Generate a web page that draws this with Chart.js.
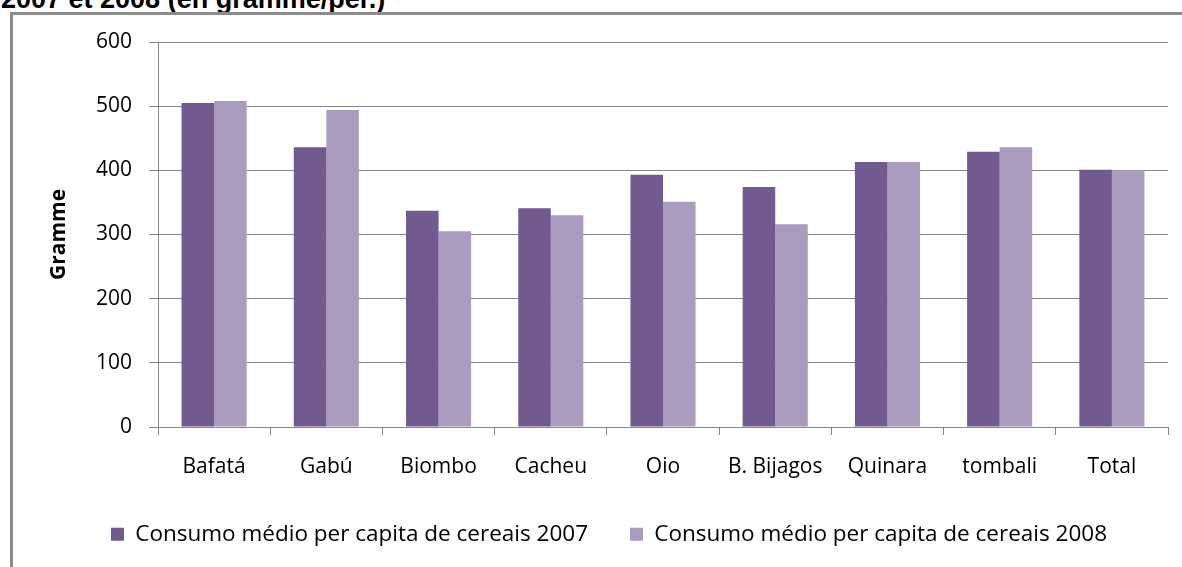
<!DOCTYPE html>
<html>
<head>
<meta charset="utf-8">
<script src="https://cdn.jsdelivr.net/npm/chart.js@4.4.1/dist/chart.umd.min.js"></script>
<style>
  html, body { margin: 0; padding: 0; background: #fff; overflow: hidden; }
  #caption {
    position: absolute; left: 1px; top: -14px;
    font: bold 27px/27px 'Liberation Sans', Arial, sans-serif;
    color: #000; white-space: nowrap;
  }
  #frame {
    position: absolute; left: 10px; top: 12px;
    width: 1300px; height: 700px;
    border: 3px solid #8d8d8d;
  }
  #chart { position: absolute; left: 0; top: 0; }
</style>
</head>
<body>
<div id="caption">2007 et 2008 (en gramme/per.)</div>
<div id="frame"></div>
<canvas id="chart" width="1182" height="567"></canvas>
<script>
const regions = ['Bafatá', 'Gabú', 'Biombo', 'Cacheu', 'Oio', 'B. Bijagos', 'Quinara', 'tombali', 'Total'];
const consumo2007 = [505, 436, 337, 341, 393, 374, 413, 429, 401];
const consumo2008 = [508, 494, 305, 330, 351, 316, 413, 436, 400];
const yTicks = [0, 100, 200, 300, 400, 500, 600];

const gridColor = '#868686';
Chart.defaults.font.family = "'Open Sans', sans-serif";
Chart.defaults.color = '#000';

// put the legend row where the original has it (box is also the clip area)
const legendPlacer = {
  id: 'legendPlacer',
  afterLayout(chart) {
    const lg = chart.legend;
    const pad = lg.options.labels.padding;
    const w = lg.right - lg.left;
    lg.left = 111 - pad;
    lg.right = lg.left + w + 200;
    lg.top = 523 - pad;
    lg.bottom = lg.top + 120;
  }
};

new Chart(document.getElementById('chart'), {
  type: 'bar',
  data: {
    labels: regions,
    datasets: [
      {
        label: 'Consumo médio per capita de cereais 2007',
        data: consumo2007,
        backgroundColor: '#72598f',
        borderWidth: 0
      },
      {
        label: 'Consumo médio per capita de cereais 2008',
        data: consumo2008,
        backgroundColor: '#aa9bbf',
        borderWidth: 0
      }
    ]
  },
  options: {
    responsive: false,
    animation: false,
    devicePixelRatio: 1,
    categoryPercentage: 0.58,
    barPercentage: 1,
    layout: { padding: { left: 0, right: 14, top: 42, bottom: 20 } },
    scales: {
      x: {
        afterFit: (scale) => { scale.height = 60; },
        grid: {
          drawOnChartArea: false,
          drawTicks: true,
          tickLength: 8,
          color: gridColor,
          offset: true
        },
        border: { color: gridColor, width: 1 },
        ticks: {
          autoSkip: false,
          maxRotation: 0,
          minRotation: 0,
          padding: 19,
          font: { size: 21 }
        }
      },
      y: {
        min: 0,
        max: 600,
        afterFit: (scale) => { scale.width = 158; },
        afterBuildTicks: (scale) => { scale.ticks = yTicks.map(v => ({ value: v })); },
        grid: { color: gridColor, lineWidth: 1, tickLength: 9 },
        border: { color: gridColor, width: 1 },
        ticks: { padding: 17, font: { size: 21 } },
        title: {
          display: true,
          text: 'Gramme',
          font: { size: 21, weight: 'bold' },
          padding: { top: 46, bottom: 0 }
        }
      }
    },
    plugins: {
      legend: {
        position: 'bottom',
        align: 'start',
        maxHeight: 60,
        labels: {
          boxWidth: 13,
          boxHeight: 13,
          padding: 42,
          font: { size: 22.5 }
        }
      },
      tooltip: { enabled: false }
    }
  },
  plugins: [legendPlacer]
});
</script>
</body>
</html>
